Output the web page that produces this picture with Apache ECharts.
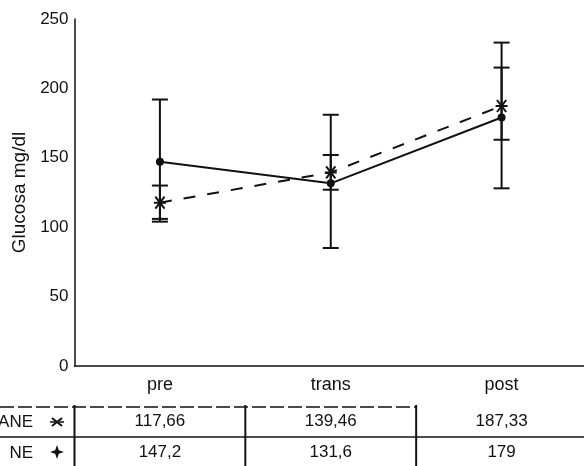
<!DOCTYPE html>
<html>
<head>
<meta charset="utf-8">
<script src="https://cdn.jsdelivr.net/npm/echarts@6/dist/echarts.min.js"></script>
<style>
html,body{margin:0;padding:0;background:#fff;}
#chart{width:584px;height:466px;}
</style>
</head>
<body>
<div id="chart"></div>
<script>
const categories = ['pre', 'trans', 'post'];
const aneMean = [117.66, 139.46, 187.33];
const aneLow = [106, 127, 163];
const aneHigh = [130, 152, 215];
const neMean = [147.2, 131.6, 179];
const neLow = [104, 85, 128];
const neHigh = [192, 181, 233];
const yMin = 0, yMax = 250, yStep = 50;
const rowLabels = ['ANE', 'NE'];
const yName = 'Glucosa mg/dl';

const fmt = v => String(v).replace('.', ',');
const FONT = '"Liberation Sans", Arial, Helvetica, sans-serif';
const INK = '#111';

const ASTER = 'path://M-1,-1L1,1M-1,1L1,-1M-1.3,0L1.3,0';

function errData(low, high) {
  return categories.map((c, i) => [i, low[i], high[i]]);
}

function errRender(params, api) {
  const lo = api.coord([api.value(0), api.value(1)]);
  const hi = api.coord([api.value(0), api.value(2)]);
  const hw = 8;
  const st = { stroke: INK, lineWidth: 2 };
  return {
    type: 'group',
    children: [
      { type: 'line', shape: { x1: lo[0], y1: lo[1], x2: hi[0], y2: hi[1] }, style: st },
      { type: 'line', shape: { x1: lo[0] - hw, y1: lo[1], x2: lo[0] + hw, y2: lo[1] }, style: st },
      { type: 'line', shape: { x1: hi[0] - hw, y1: hi[1], x2: hi[0] + hw, y2: hi[1] }, style: st }
    ]
  };
}

const chart = echarts.init(document.getElementById('chart'), null, { renderer: 'canvas' });

const gridLeft = 74.5, gridRight = -3, gridTop = 19, gridBottom = 100;

function tableAxis(values, offset) {
  return {
    type: 'category',
    data: values.map(fmt),
    position: 'bottom',
    offset: offset,
    axisLine: { show: false },
    axisTick: { show: false },
    axisLabel: { color: INK, fontFamily: FONT, fontSize: 17, margin: 0, interval: 0 },
    splitLine: { show: false }
  };
}

const option = {
  backgroundColor: '#fff',
  animation: false,
  grid: { left: gridLeft, right: gridRight, top: gridTop, bottom: gridBottom, containLabel: false, outerBoundsMode: 'none' },
  xAxis: [
    {
      type: 'category',
      data: categories,
      boundaryGap: true,
      axisLine: { lineStyle: { color: INK, width: 1.5 } },
      axisTick: { show: false },
      axisLabel: { color: INK, fontFamily: FONT, fontSize: 18, margin: 10 },
      splitLine: { show: false }
    },
    tableAxis(aneMean, 47),
    tableAxis(neMean, 78)
  ],
  yAxis: {
    type: 'value',
    min: yMin, max: yMax, interval: yStep,
    name: yName,
    nameLocation: 'middle',
    nameRotate: 90,
    nameGap: 45,
    nameTextStyle: { color: INK, fontFamily: FONT, fontSize: 19 },
    axisLine: { show: true, lineStyle: { color: INK, width: 1.5 } },
    axisTick: { show: false },
    axisLabel: { color: INK, fontFamily: FONT, fontSize: 17, margin: 6 },
    splitLine: { show: false }
  },
  series: [
    {
      type: 'custom',
      name: 'neErr',
      data: errData(neLow, neHigh),
      renderItem: errRender,
      encode: { x: 0, y: [1, 2] },
      z: 2
    },
    {
      type: 'custom',
      name: 'aneErr',
      data: errData(aneLow, aneHigh),
      renderItem: errRender,
      encode: { x: 0, y: [1, 2] },
      z: 2
    },
    {
      type: 'line',
      name: 'NE',
      data: neMean,
      symbol: 'circle',
      symbolSize: 8,
      lineStyle: { color: INK, width: 2 },
      itemStyle: { color: INK },
      z: 5
    },
    {
      type: 'line',
      name: 'ANE',
      data: aneMean,
      symbol: ASTER,
      symbolSize: 12,
      lineStyle: { color: INK, width: 2, type: [12, 12] },
      itemStyle: { color: INK, borderColor: INK, borderWidth: 2 },
      z: 5
    }
  ]
};

chart.setOption(option);

// table grid lines aligned with the category bands
const W = 584;
const c0 = chart.convertToPixel({ xAxisIndex: 0 }, 'pre');
const band = chart.convertToPixel({ xAxisIndex: 0 }, 'trans') - c0;
const bounds = [c0 - band / 2, c0 + band / 2, c0 + band * 1.5];
const topY = 407, midY = 437, botY = 470;
const gl = [];
gl.push({ type: 'line', shape: { x1: 0, y1: topY, x2: bounds[2], y2: topY }, style: { stroke: INK, lineWidth: 1.5, lineDash: [14, 4] } });
gl.push({ type: 'line', shape: { x1: 0, y1: midY, x2: W, y2: midY }, style: { stroke: INK, lineWidth: 1.5 } });
bounds.forEach(b => {
  gl.push({ type: 'line', shape: { x1: b, y1: topY - 2, x2: b, y2: botY }, style: { stroke: INK, lineWidth: 2 } });
});
// row labels
gl.push({ type: 'text', style: { text: rowLabels[0], x: 33, y: 422, align: 'right', verticalAlign: 'middle', fill: INK, font: '17px ' + FONT } });
gl.push({ type: 'text', style: { text: rowLabels[1], x: 33, y: 453, align: 'right', verticalAlign: 'middle', fill: INK, font: '17px ' + FONT } });
// legend markers in table: asterisk and four-point star
const mx = 57, my1 = 422, my2 = 452;
const ast = { stroke: INK, lineWidth: 2 };
gl.push({ type: 'line', shape: { x1: mx - 5, y1: my1 - 4, x2: mx + 5, y2: my1 + 4 }, style: ast });
gl.push({ type: 'line', shape: { x1: mx - 5, y1: my1 + 4, x2: mx + 5, y2: my1 - 4 }, style: ast });
gl.push({ type: 'line', shape: { x1: mx - 7, y1: my1, x2: mx + 7, y2: my1 }, style: { stroke: INK, lineWidth: 1.5 } });
gl.push({
  type: 'polygon',
  shape: { points: [[mx, my2 - 7], [mx + 1.8, my2 - 1.8], [mx + 7, my2], [mx + 1.8, my2 + 1.8], [mx, my2 + 7], [mx - 1.8, my2 + 1.8], [mx - 7, my2], [mx - 1.8, my2 - 1.8]] },
  style: { fill: INK }
});
chart.setOption({ graphic: gl });
</script>
</body>
</html>
